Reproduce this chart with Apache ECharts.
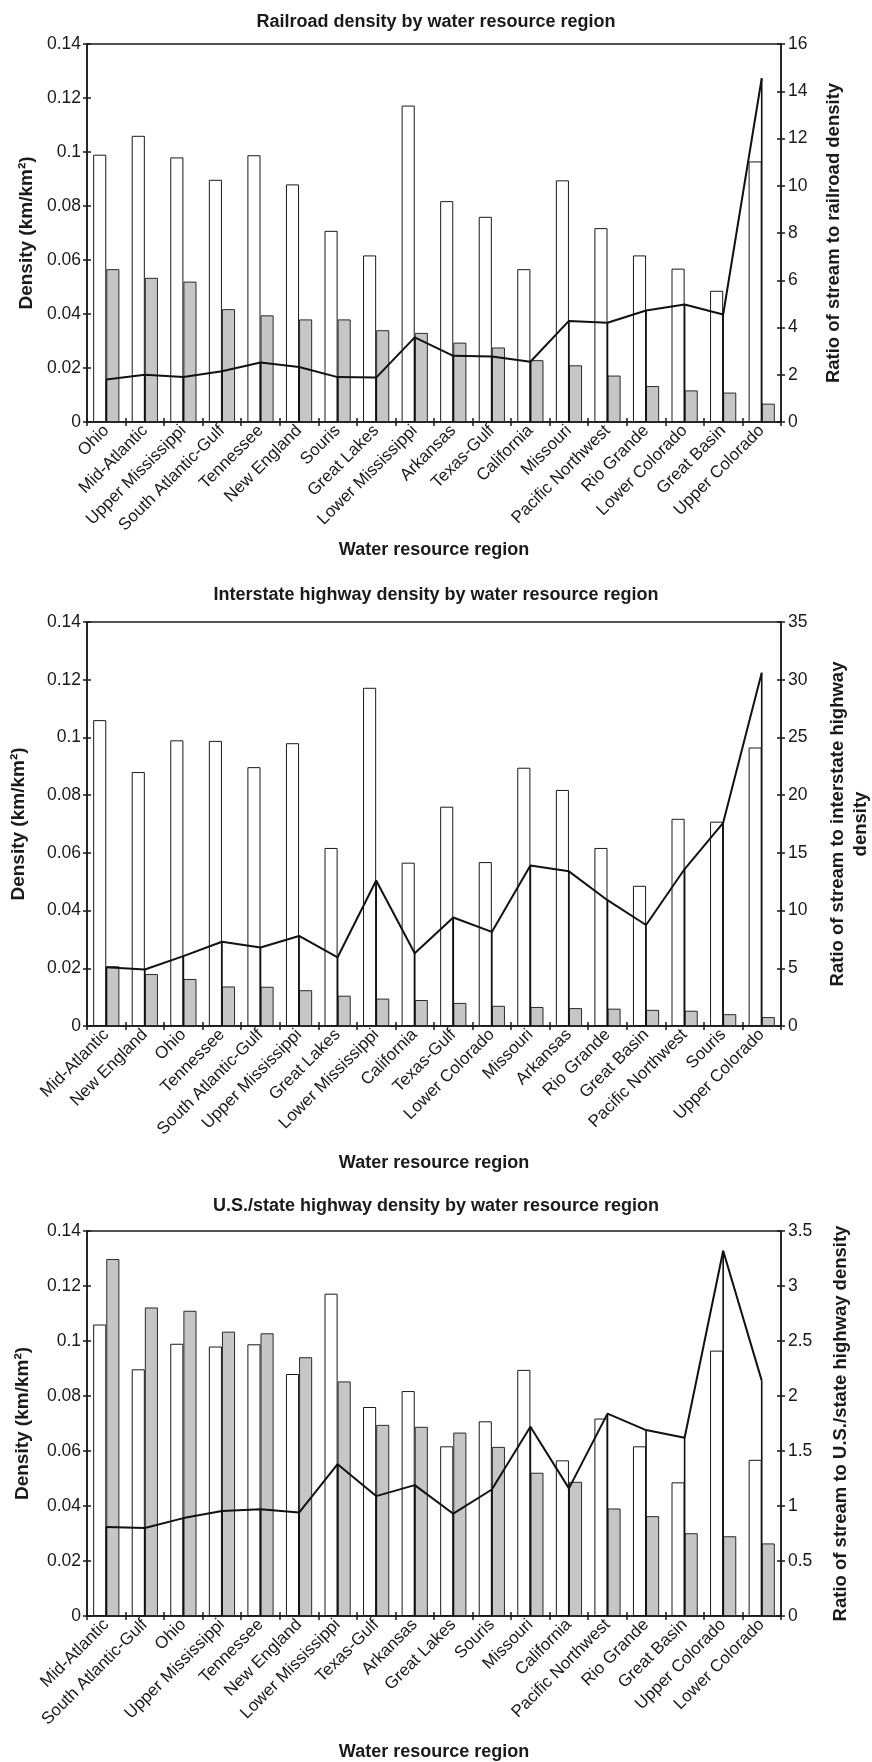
<!DOCTYPE html>
<html>
<head>
<meta charset="utf-8">
<script src="https://cdn.jsdelivr.net/npm/echarts@6/dist/echarts.min.js"></script>
<style>
  html, body { margin: 0; padding: 0; background: #fff; }
  #chart { width: 872px; height: 1762px; }
</style>
</head>
<body>
<div id="chart"></div>
<script>
// Stream density of each water resource region (km/km²)
const streamRegions = ['Ohio', 'Mid-Atlantic', 'Upper Mississippi', 'South Atlantic-Gulf', 'Tennessee',
  'New England', 'Souris', 'Great Lakes', 'Lower Mississippi', 'Arkansas', 'Texas-Gulf', 'California',
  'Missouri', 'Pacific Northwest', 'Rio Grande', 'Lower Colorado', 'Great Basin', 'Upper Colorado'];
const streamDensity = [0.099, 0.106, 0.098, 0.0897, 0.0988, 0.088, 0.0708, 0.0617, 0.1172, 0.0818, 0.076, 0.0566,
  0.0895, 0.0718, 0.0617, 0.0568, 0.0486, 0.0965];

// Railroad panel
const railCategories = ['Ohio', 'Mid-Atlantic', 'Upper Mississippi', 'South Atlantic-Gulf', 'Tennessee',
  'New England', 'Souris', 'Great Lakes', 'Lower Mississippi', 'Arkansas', 'Texas-Gulf', 'California',
  'Missouri', 'Pacific Northwest', 'Rio Grande', 'Lower Colorado', 'Great Basin', 'Upper Colorado'];
const railDensity = [0.0566, 0.0534, 0.052, 0.0418, 0.0395, 0.038, 0.038, 0.034, 0.033, 0.0294, 0.0276, 0.0229,
  0.021, 0.0172, 0.0133, 0.0117, 0.0109, 0.0068];
const railRatio = [1.8, 2.0, 1.9, 2.15, 2.52, 2.33, 1.9, 1.88, 3.58, 2.8, 2.77, 2.55, 4.28, 4.2, 4.72, 4.97, 4.55, 14.55];

// Interstate highway panel
const interstateCategories = ['Mid-Atlantic', 'New England', 'Ohio', 'Tennessee', 'South Atlantic-Gulf',
  'Upper Mississippi', 'Great Lakes', 'Lower Mississippi', 'California', 'Texas-Gulf', 'Lower Colorado',
  'Missouri', 'Arkansas', 'Rio Grande', 'Great Basin', 'Pacific Northwest', 'Souris', 'Upper Colorado'];
const interstateDensity = [0.0207, 0.018, 0.0163, 0.0137, 0.0136, 0.0124, 0.0105, 0.0095, 0.009, 0.008, 0.007,
  0.0066, 0.0062, 0.006, 0.0056, 0.0053, 0.0041, 0.0031];
const interstateRatio = [5.1, 4.9, 6.05, 7.3, 6.8, 7.8, 5.95, 12.6, 6.3, 9.4, 8.15, 13.9, 13.4, 10.9, 8.75, 13.6, 17.6, 30.6];

// U.S./state highway panel
const usStateCategories = ['Mid-Atlantic', 'South Atlantic-Gulf', 'Ohio', 'Upper Mississippi', 'Tennessee',
  'New England', 'Lower Mississippi', 'Texas-Gulf', 'Arkansas', 'Great Lakes', 'Souris', 'Missouri',
  'California', 'Pacific Northwest', 'Rio Grande', 'Great Basin', 'Upper Colorado', 'Lower Colorado'];
const usStateDensity = [0.1298, 0.1122, 0.111, 0.1034, 0.1028, 0.0941, 0.0853, 0.0695, 0.0688, 0.0667, 0.0615,
  0.0521, 0.0488, 0.0391, 0.0363, 0.0301, 0.029, 0.0264];
const usStateRatio = [0.81, 0.8, 0.89, 0.955, 0.97, 0.94, 1.38, 1.09, 1.19, 0.93, 1.15, 1.72, 1.16, 1.84, 1.69, 1.62, 3.32, 2.14];

// Axis ranges
const densityAxis = { min: 0, max: 0.14, interval: 0.02 };
const ratioAxes = [
  { min: 0, max: 16, interval: 2 },
  { min: 0, max: 35, interval: 5 },
  { min: 0, max: 3.5, interval: 0.5 }
];

const titles = [
  'Railroad density by water resource region',
  'Interstate highway density by water resource region',
  'U.S./state highway density by water resource region'
];
const ratioNames = [
  'Ratio of stream to railroad density',
  'Ratio of stream to interstate highway\ndensity',
  'Ratio of stream to U.S./state highway density'
];

const panels = [
  { categories: railCategories, road: railDensity, ratio: railRatio },
  { categories: interstateCategories, road: interstateDensity, ratio: interstateRatio },
  { categories: usStateCategories, road: usStateDensity, ratio: usStateRatio }
];

// Page layout of the three stacked panels
const layout = [
  { top: 44, height: 378, titleY: 17, xNameGap: 119, leftGap: 51, rightGap: 41 },
  { top: 622, height: 404, titleY: 590, xNameGap: 128, leftGap: 59, rightGap: 45 },
  { top: 1231, height: 385, titleY: 1201, xNameGap: 127, leftGap: 55, rightGap: 48 }
];

const FONT = "'Liberation Sans', Arial, Helvetica, sans-serif";
const INK = '#1a1a1a';
const TICK = { show: true, length: 4, lineStyle: { color: INK, width: 1.5 } };

const lookupStream = name => streamDensity[streamRegions.indexOf(name)];

const option = { animation: false, backgroundColor: '#fff', title: [], grid: [], xAxis: [], yAxis: [], series: [] };

panels.forEach((p, k) => {
  const L = layout[k];
  option.title.push({
    text: titles[k], left: 'center', top: L.titleY - 9,
    textStyle: { fontFamily: FONT, fontWeight: 'bold', fontSize: 18, lineHeight: 18, color: INK }
  });
  option.grid.push({
    left: 87, width: 694, top: L.top, height: L.height,
    show: true, borderColor: INK, borderWidth: 1.5, backgroundColor: 'transparent',
    containLabel: false, outerBoundsMode: 'none'
  });
  option.xAxis.push({
    type: 'category', gridIndex: k, data: p.categories, boundaryGap: true, position: 'bottom',
    axisLine: { show: true, lineStyle: { color: INK, width: 1.5 } },
    axisTick: Object.assign({ interval: 0 }, TICK),
    axisLabel: { interval: 0, rotate: 45, margin: 6, fontSize: 17, fontFamily: FONT, color: INK },
    splitLine: { show: false },
    name: 'Water resource region', nameLocation: 'middle', nameGap: L.xNameGap,
    nameTextStyle: { fontFamily: FONT, fontWeight: 'bold', fontSize: 18, color: INK }
  });
  option.yAxis.push({
    type: 'value', gridIndex: k, position: 'left',
    min: densityAxis.min, max: densityAxis.max, interval: densityAxis.interval,
    axisLine: { show: true, lineStyle: { color: INK, width: 1.5 } },
    axisTick: TICK,
    axisLabel: { margin: 6, fontSize: 17.5, fontFamily: FONT, color: INK },
    splitLine: { show: false },
    name: 'Density (km/km²)', nameLocation: 'middle', nameGap: L.leftGap,
    nameTextStyle: { fontFamily: FONT, fontWeight: 'bold', fontSize: 19, color: INK }
  });
  const R = ratioAxes[k];
  option.yAxis.push({
    type: 'value', gridIndex: k, position: 'right',
    min: R.min, max: R.max, interval: R.interval,
    axisLine: { show: true, lineStyle: { color: INK, width: 1.5 } },
    axisTick: TICK,
    axisLabel: { margin: 7, fontSize: 17.5, fontFamily: FONT, color: INK },
    splitLine: { show: false },
    name: ratioNames[k], nameLocation: 'middle', nameGap: L.rightGap,
    nameTextStyle: { fontFamily: FONT, fontWeight: 'bold', fontSize: 18.5, lineHeight: 23, color: INK, align: 'center' }
  });

  // stream density (white) and road density (grey) bars
  option.series.push({
    type: 'bar', xAxisIndex: k, yAxisIndex: 2 * k, silent: true,
    data: p.categories.map(lookupStream),
    barWidth: '34%', barGap: '0%',
    itemStyle: { color: '#ffffff', borderColor: INK, borderWidth: 1 }
  });
  option.series.push({
    type: 'bar', xAxisIndex: k, yAxisIndex: 2 * k, silent: true,
    data: p.road,
    barWidth: '34%', barGap: '0%',
    itemStyle: { color: '#c6c6c6', borderColor: '#2a2a2a', borderWidth: 1 }
  });
  // ratio line with drop lines to the category axis
  option.series.push({
    type: 'line', xAxisIndex: k, yAxisIndex: 2 * k + 1, silent: true, z: 3,
    data: p.ratio, symbol: 'none',
    lineStyle: { color: '#111', width: 2 }
  });
  option.series.push({
    type: 'custom', xAxisIndex: k, yAxisIndex: 2 * k + 1, silent: true, z: 4,
    data: p.ratio.map((v, i) => [i, v]),
    renderItem: (params, api) => {
      const top = api.coord([api.value(0), api.value(1)]);
      const base = api.coord([api.value(0), 0]);
      return {
        type: 'line',
        shape: { x1: top[0], y1: top[1], x2: base[0], y2: base[1] },
        style: { stroke: '#111', lineWidth: 1.6 }
      };
    }
  });
});

// Inward halves of the tick marks, so every tick crosses its axis line
panels.forEach((p, k) => {
  const inner = Object.assign({}, TICK, { inside: true });
  option.xAxis.push({
    type: 'category', gridIndex: k, data: p.categories, boundaryGap: true, position: 'bottom',
    axisLine: { show: false }, axisLabel: { show: false }, splitLine: { show: false },
    axisTick: Object.assign({ interval: 0 }, inner)
  });
  option.yAxis.push({
    type: 'value', gridIndex: k, position: 'left',
    min: densityAxis.min, max: densityAxis.max, interval: densityAxis.interval,
    axisLine: { show: false }, axisLabel: { show: false }, splitLine: { show: false }, axisTick: inner
  });
  const R = ratioAxes[k];
  option.yAxis.push({
    type: 'value', gridIndex: k, position: 'right',
    min: R.min, max: R.max, interval: R.interval,
    axisLine: { show: false }, axisLabel: { show: false }, splitLine: { show: false }, axisTick: inner
  });
});

const chart = echarts.init(document.getElementById('chart'), null, { renderer: 'canvas' });
chart.setOption(option);
</script>
</body>
</html>
